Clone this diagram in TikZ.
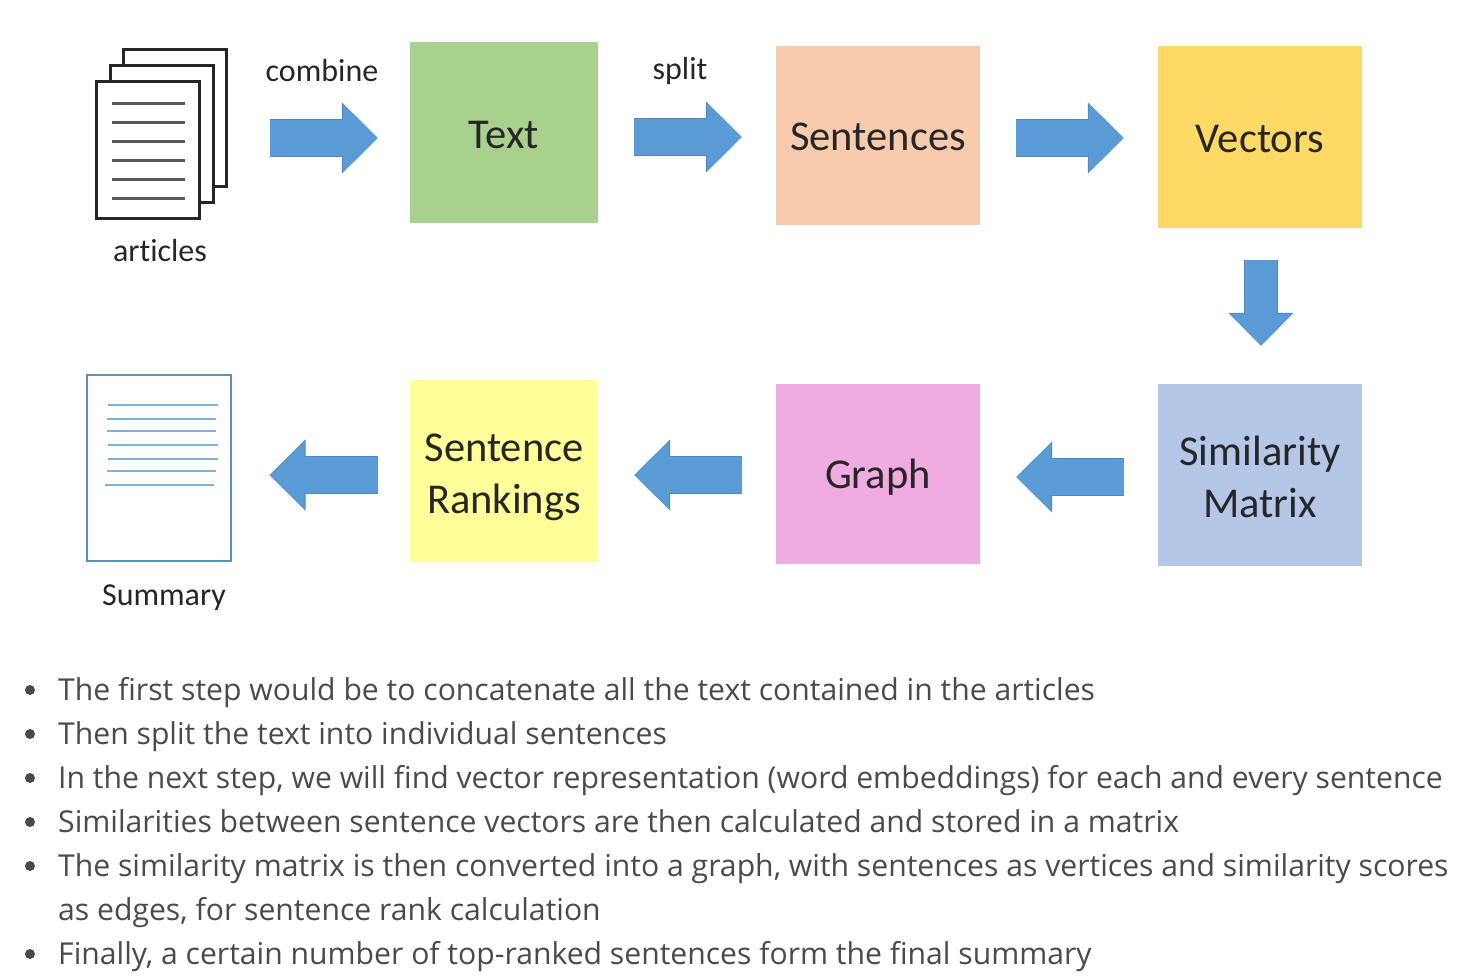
\documentclass[tikz,border=0pt]{standalone}
\usepackage{fontspec}
\setmainfont{Carlito}[Ligatures=NoCommon]
\newfontfamily\listfont{Open Sans}
\usepackage{xcolor}
\usetikzlibrary{arrows.meta}
\definecolor{flowblue}{HTML}{5B9BD5}
\definecolor{flowedge}{HTML}{5088BC}
\definecolor{inkgray}{HTML}{262626}
\definecolor{listgray}{HTML}{4A4A4A}
\definecolor{sheetblue}{HTML}{5F90B5}
\definecolor{ruleblue}{HTML}{7FB0DC}

\begin{document}
\begin{tikzpicture}[x=1pt,y=-1pt,
  box/.style={minimum width=204pt, minimum height=180pt, inner sep=0pt},
  narrow/.style={box, minimum width=188pt},
  boxtext/.style={inner sep=0pt, align=center, text=inkgray, font=\fontsize{42.5}{52}\selectfont},
  sheet/.style={draw=black!85, fill=white, line width=3pt, inner sep=0pt,
                minimum width=103pt, minimum height=137pt},
  tag/.style={text=inkgray, font=\fontsize{32}{38}\selectfont},
  flow/.style={flowblue, line width=36pt, -{Triangle[length=35pt,width=67pt]},
               preaction={draw=flowedge, line width=37.5pt, -{Triangle[length=36pt,width=69pt]}}},
  flowdown/.style={flowblue, line width=32pt, -{Triangle[length=32pt,width=61pt]},
               preaction={draw=flowedge, line width=33.5pt, -{Triangle[length=33pt,width=63pt]}}},
  item/.style={anchor=base west, inner sep=0pt, text=listgray,
               font=\listfont\fontsize{30.15}{36}\selectfont},
  dot/.style={circle, fill=listgray, inner sep=0pt, minimum size=10pt},
]
\useasboundingbox (0,0) rectangle (1470,978);
% top row
\node[sheet] (pageC) at (175,117.5) {};
\node[sheet] (pageB) at (161.5,134) {};
\node[sheet] (pageA) at (148,150) {};
\foreach \ly in {103,122,141,160,179,198}
  \draw[black!65, line width=3pt] (112,\ly) -- (185,\ly);
\node[tag] (articles) at (160,251) {articles};
\node[narrow, fill={rgb,255:red,169;green,209;blue,142}, minimum height=181pt] (txt) at (504,132.5) {};
\node[boxtext] (txtLabel) at ([yshift=-3pt]txt.center) {Text};
\node[box, fill={rgb,255:red,248;green,203;blue,173}, minimum height=179pt] (sen) at (878,135.5) {};
\node[boxtext] (senLabel) at ([yshift=-1.5pt]sen.center) {Sentences};
\node[box, fill={rgb,255:red,255;green,217;blue,102}, minimum height=182pt] (vec) at (1260,137) {};
\node[boxtext] (vecLabel) at ([yshift=-2pt]vec.center) {Vectors};
\node[tag] (combine) at (322,70) {combine};
\node[tag] (split) at (680,71) {split};
% bottom row
\node[box, fill={rgb,255:red,180;green,199;blue,231}, minimum height=182pt] (sim) at (1260,475) {};
\node[boxtext] (simLabel) at ([yshift=-2pt]sim.center) {Similarity\\Matrix};
\node[box, fill={rgb,255:red,240;green,171;blue,224}] (gra) at (878,474) {};
\node[boxtext] (graLabel) at ([yshift=-3pt]gra.center) {Graph};
\node[narrow, fill={rgb,255:red,255;green,255;blue,153}, minimum height=182pt] (rnk) at (504,471) {};
\node[boxtext] (rnkLabel) at ([yshift=-6pt]rnk.center) {Sentence\\Rankings};
\node[draw=sheetblue, line width=2pt, fill=white, inner sep=0pt,
      minimum width=144pt, minimum height=186pt] (summ) at (159,468) {};
\draw[ruleblue, line width=2pt] (108,404.5) -- (218,404.5);
\draw[ruleblue, line width=2pt] (107,419) -- (216,419);
\draw[ruleblue, line width=2pt] (107,431) -- (216,431);
\draw[ruleblue, line width=2pt] (108,445) -- (218,445);
\draw[ruleblue, line width=2pt] (108,459) -- (218,459);
\draw[ruleblue, line width=2pt] (107,471) -- (216,471);
\draw[ruleblue, line width=2pt] (105,485) -- (214,485);
\node[tag] (summary) at (164,598) {Summary};
% block arrows
\draw[flow, shorten <=41.5pt, shorten >=32pt] ([yshift=-5.5pt]txt.west -| pageC.east) -- ([yshift=-5.5pt]txt.west);
\draw[flow, shorten <=36pt, shorten >=34pt] ([yshift=-4.5pt]txt.east) -- ([yshift=-4.5pt]txt.east -| sen.west);
\draw[flow, shorten <=36pt, shorten >=34pt] ([yshift=-1pt]vec.west -| sen.east) -- ([yshift=-1pt]vec.west);
\draw[flowdown, shorten <=32pt, shorten >=38pt] ([xshift=1pt]vec.south) -- ([xshift=1pt]sim.north);
\draw[flow, shorten <=34pt, shorten >=36pt] ([yshift=-2pt]sim.west) -- ([yshift=-2pt]sim.west -| gra.east);
\draw[flow, shorten <=34pt, shorten >=36pt] ([yshift=-1pt]gra.west) -- ([yshift=-1pt]gra.west -| rnk.east);
\draw[flow, shorten <=32pt, shorten >=37.5pt] ([yshift=-1pt]gra.west -| rnk.west) -- ([yshift=-1pt]gra.west -| summ.east);
% list
\foreach \ly in {690,734,778,822,866,954}
  \node[dot] at (30,\ly) {};
\node[item] (itemA) at (58,700) {The first step would be to concatenate all the text contained in the articles};
\node[item] (itemB) at (58,744) {Then split the text into individual sentences};
\node[item] (itemC) at (58,788) {In the next step, we will find vector representation (word embeddings) for each and every sentence};
\node[item] (itemD) at (58,832) {Similarities between sentence vectors are then calculated and stored in a matrix};
\node[item] (itemE) at (58,876) {The similarity matrix is then converted into a graph, with sentences as vertices and similarity scores};
\node[item] (itemF) at (58,920) {as edges, for sentence rank calculation};
\node[item] (itemG) at (58,964) {Finally, a certain number of top-ranked sentences form the final summary};
\end{tikzpicture}
\end{document}
